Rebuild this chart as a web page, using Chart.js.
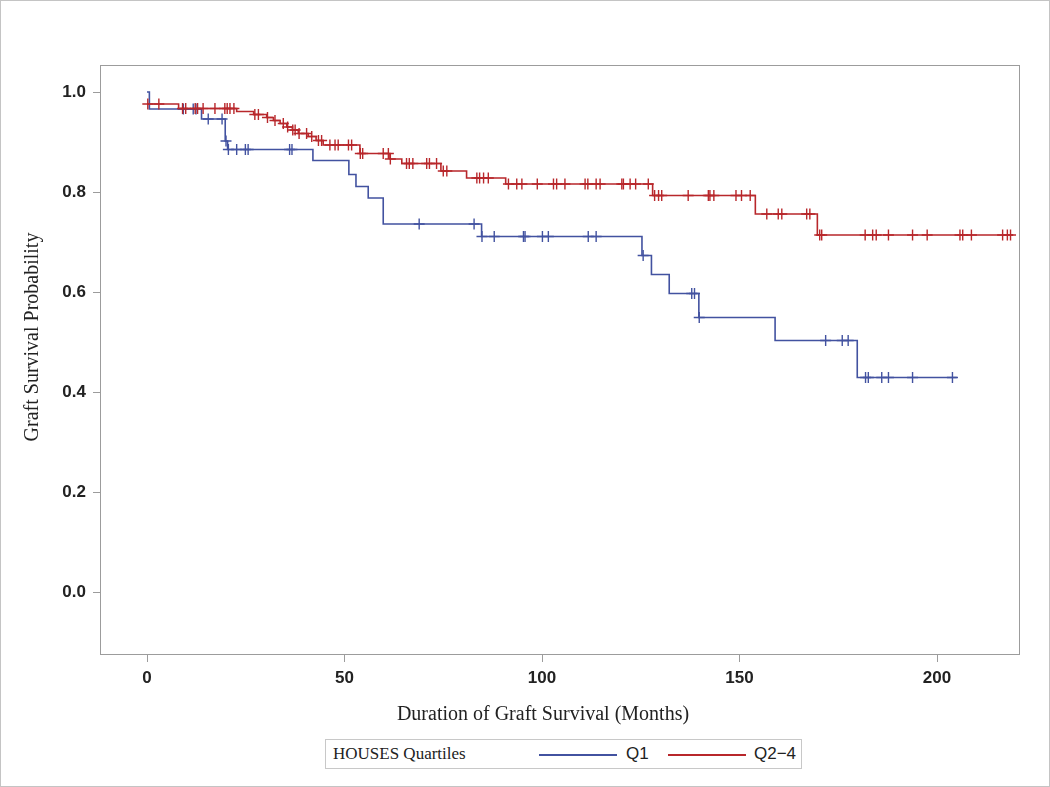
<!DOCTYPE html>
<html>
<head>
<meta charset="utf-8">
<script src="https://cdn.jsdelivr.net/npm/chart.js@4.4.1/dist/chart.umd.min.js"></script>
<style>
  html, body { margin: 0; padding: 0; background: #fff; }
  #wrap { position: relative; width: 1050px; height: 787px; overflow: hidden; }
  #frame { position: absolute; left: 0; top: 0; width: 1050px; height: 787px; box-sizing: border-box; border: 1px solid #c4c4c4; pointer-events: none; }
  #legend { position: absolute; left: 325px; top: 739px; width: 477px; height: 30px; box-sizing: border-box; border: 1px solid #c8c8c8; background: #fff; }
  #legend .title { position: absolute; left: 7px; top: 4px; font-family: "Liberation Serif", "Times New Roman", serif; font-size: 17px; color: #222; }
  #legend .ln { position: absolute; top: 14px; height: 0; border-top: 2px solid; }
  #legend .lab { position: absolute; top: 4px; font-family: "Liberation Sans", Arial, sans-serif; font-size: 17px; color: #222; }
</style>
</head>
<body>
<div id="wrap">
  <canvas id="c" width="1050" height="787"></canvas>
  <div id="legend">
    <span class="title" id="legTitle"></span>
    <span class="ln" id="ln1" style="left:213px;width:78px;"></span>
    <span class="lab" id="lab1" style="left:300px;"></span>
    <span class="ln" id="ln2" style="left:342px;width:78px;"></span>
    <span class="lab" id="lab2" style="left:428px;"></span>
  </div>
  <div id="frame"></div>
</div>
<script>
// ---- data ----
const seriesNames = ['Q1', 'Q2\u22124'];
const legendTitle = 'HOUSES Quartiles';
const xTitle = 'Duration of Graft Survival (Months)';
const yTitle = 'Graft Survival Probability';
const xTicks = [0, 50, 100, 150, 200];
const yTicks = [0.0, 0.2, 0.4, 0.6, 0.8, 1.0];

// Q1: step times (months) and survival after each step
const q1Times = [0, 0.6, 13.8, 19.8, 20.4, 42, 51.1, 52.9, 56, 59.8, 84.7, 125.3, 127.7, 132.2, 139.7, 159, 179.8, 205];
const q1Surv  = [1.0, 0.966, 0.946, 0.902, 0.885, 0.863, 0.835, 0.811, 0.788, 0.736, 0.711, 0.673, 0.635, 0.597, 0.549, 0.503, 0.429, 0.429];
const q1Censor = [9.2, 11.7, 12.4, 15.5, 19.0, 20.0, 20.6, 22.7, 24.9, 25.6, 36.1, 36.7, 68.9, 82.8, 84.8, 87.9, 95.3, 95.7, 100.1, 101.6, 111.7, 113.7, 125.6, 137.9, 138.6, 139.8, 171.8, 176.0, 177.5, 181.9, 182.6, 186.0, 187.7, 193.8, 203.9];

// Q2-4
const q24Times = [0, 8, 22.7, 27, 30.3, 32, 33.7, 35.4, 36.8, 38.3, 40.8, 42.8, 44.6, 53.9, 61.5, 64.5, 74.4, 80.9, 90.8, 128, 154, 169.7, 219.3];
const q24Surv  = [0.976, 0.967, 0.961, 0.955, 0.949, 0.943, 0.937, 0.930, 0.924, 0.917, 0.911, 0.903, 0.894, 0.877, 0.866, 0.857, 0.842, 0.828, 0.816, 0.793, 0.756, 0.714, 0.714];
const q24Censor = [0.2, 3.0, 9.0, 9.8, 12.2, 12.8, 14.2, 17.2, 19.7, 20.3, 21.0, 22.0, 27.3, 28.2, 30.5, 32.4, 34.5, 35.6, 36.9, 37.5, 38.5, 40.4, 41.7, 43.4, 44.2, 46.3, 47.6, 48.4, 51.0, 51.8, 54.0, 54.6, 59.8, 61.1, 61.6, 65.7, 66.4, 67.3, 70.8, 71.5, 73.3, 75.0, 75.9, 83.5, 84.2, 85.2, 86.4, 91.5, 93.6, 94.9, 98.8, 102.9, 103.7, 105.8, 110.9, 111.6, 113.7, 114.7, 120.2, 120.6, 122.3, 123.7, 126.9, 128.5, 129.5, 130.3, 137.0, 142.1, 142.5, 143.5, 149.1, 150.5, 152.7, 156.9, 159.8, 160.7, 167.0, 167.8, 170.3, 170.8, 181.8, 183.7, 184.6, 187.7, 193.8, 197.5, 205.8, 206.5, 208.7, 216.6, 217.8, 218.6];

const colQ1 = '#4252a0';
const colQ24 = '#b8272b';

// ---- helpers ----
function stepPoints(times, surv) { return times.map((t, i) => ({ x: t, y: surv[i] })); }
function survAt(times, surv, t) {
  let v = surv[0];
  for (let i = 0; i < times.length; i++) { if (times[i] <= t) v = surv[i]; }
  return v;
}
function censorPoints(cens, times, surv) { return cens.map(t => ({ x: t, y: survAt(times, surv, t) })); }

// legend (HTML text)
document.getElementById('legTitle').textContent = legendTitle;
document.getElementById('lab1').textContent = seriesNames[0];
document.getElementById('lab2').textContent = seriesNames[1];
document.getElementById('ln1').style.borderColor = colQ1;
document.getElementById('ln2').style.borderColor = colQ24;

const framePlugin = {
  id: 'frameBox',
  afterDraw(chart) {
    const a = chart.chartArea, ctx = chart.ctx;
    ctx.save();
    ctx.strokeStyle = '#9c9c9c';
    ctx.lineWidth = 1;
    ctx.strokeRect(Math.round(a.left) + 0.5, Math.round(a.top) + 0.5, Math.round(a.right - a.left) - 1, Math.round(a.bottom - a.top) - 1);
    // axis titles (SAS places them slightly off the plot-area centre)
    ctx.fillStyle = '#222';
    ctx.font = '20px "Liberation Serif", "Times New Roman", serif';
    ctx.textAlign = 'center';
    ctx.textBaseline = 'middle';
    ctx.fillText(xTitle, (a.left + a.right) / 2 - 17, a.bottom + 60);
    ctx.translate(33, (a.top + a.bottom) / 2 - 23);
    ctx.rotate(-Math.PI / 2);
    ctx.fillText(yTitle, 0, 0);
    ctx.restore();
  }
};

new Chart(document.getElementById('c'), {
  type: 'scatter',
  data: {
    datasets: [
      { label: seriesNames[0], type: 'line', data: stepPoints(q1Times, q1Surv), stepped: true, borderColor: colQ1, borderWidth: 1.6, pointRadius: 0, fill: false, order: 2 },
      { label: seriesNames[1], type: 'line', data: stepPoints(q24Times, q24Surv), stepped: true, borderColor: colQ24, borderWidth: 1.6, pointRadius: 0, fill: false, order: 1 },
      { label: seriesNames[0] + ' censored', data: censorPoints(q1Censor, q1Times, q1Surv), pointStyle: 'cross', pointRadius: 5.5, borderColor: colQ1, borderWidth: 1.4, backgroundColor: colQ1, order: 2 },
      { label: seriesNames[1] + ' censored', data: censorPoints(q24Censor, q24Times, q24Surv), pointStyle: 'cross', pointRadius: 5.5, borderColor: colQ24, borderWidth: 1.4, backgroundColor: colQ24, order: 1 }
    ]
  },
  options: {
    responsive: false,
    animation: false,
    layout: { padding: { left: 0, right: 30, top: 65, bottom: 52 } },
    plugins: { legend: { display: false }, tooltip: { enabled: false } },
    scales: {
      x: {
        type: 'linear', min: -11.9, max: 221,
        afterBuildTicks: (s) => { s.ticks = xTicks.map(v => ({ value: v })); },
        afterFit: (s) => { s.height = 80; },
        grid: { drawOnChartArea: false, drawTicks: true, tickLength: 7, color: '#9c9c9c' },
        border: { display: false },
        ticks: { padding: 6, color: '#222', font: { family: 'Liberation Sans', size: 17, weight: 'bold' }, maxRotation: 0, callback: (v) => String(v) },
        title: { display: false }
      },
      y: {
        type: 'linear', min: -0.126, max: 1.054,
        afterBuildTicks: (s) => { s.ticks = yTicks.map(v => ({ value: v })); },
        afterFit: (s) => { s.width = 100; },
        grid: { drawOnChartArea: false, drawTicks: true, tickLength: 7, color: '#9c9c9c' },
        border: { display: false },
        ticks: { padding: 7, color: '#222', font: { family: 'Liberation Sans', size: 17, weight: 'bold' }, callback: (v) => Number(v).toFixed(1) },
        title: { display: false }
      }
    }
  },
  plugins: [framePlugin]
});
</script>
</body>
</html>
